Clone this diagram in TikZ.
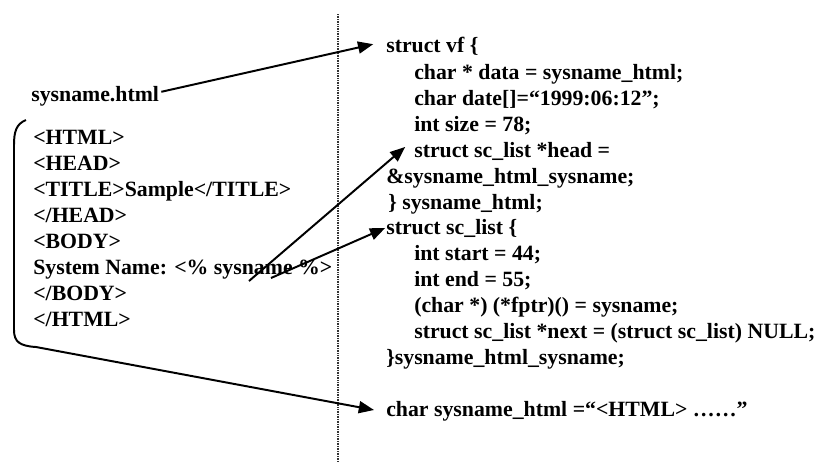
\documentclass[tikz,border=0pt]{standalone}
\usepackage{fontspec}
\setmainfont{Liberation Serif}
\usetikzlibrary{arrows.meta}

\tikzset{
  src/.style={anchor=base west,inner sep=0pt,font=\fontsize{15.5}{18}\selectfont\bfseries},
  link/.style={-{Triangle[length=0.38cm,width=0.3cm]},line width=1.4pt},
}

\begin{document}
\begin{tikzpicture}[x=0.025cm,y=-0.025cm]
  \useasboundingbox (0,0) rectangle (821,462);

  % separator between the page and the generated C code
  \draw[black!80,line width=0.8pt,dash pattern=on 0.6pt off 0.6pt] (338,14) -- (338,462);

  % the template file
  \node[src] (fname) at (31,101) {sysname.html};
  \node[src] (h1) at (33,144) {<HTML>};
  \node[src] (h2) at (33,170) {<HEAD>};
  \node[src] (h3) at (33,196) {<TITLE>Sample</TITLE>};
  \node[src] (h4) at (33,222) {</HEAD>};
  \node[src] (h5) at (33,248) {<BODY>};
  \node[src] (h6) at (33,274) {System Name: <\% sysname \%>};
  \node[src] (h7) at (33,300) {</BODY>};
  \node[src] (h8) at (33,326) {</HTML>};
  \coordinate (tagA) at (249,281);
  \coordinate (tagB) at (271,278);

  % bracket round the page text
  \draw[line width=1.4pt] (26,120) .. controls (16,124) and (14,132) .. (14,145)
    -- (14,330) .. controls (14,342) and (20,346) .. (36,347);
  \coordinate (pageend) at (36,347);

  % generated structures
  \node[src] (vf)    at (386,52)  {struct vf \{};
  \node[src] (vf1)   at (414,79)  {char * data = sysname\_html;};
  \node[src] (vf2)   at (414,105) {char date[]=``1999:06:12'';};
  \node[src] (vf3)   at (414,131) {int size = 78;};
  \node[src] (vf4)   at (414,157) {struct sc\_list *head =};
  \node[src] (vf5)   at (386,183) {\&sysname\_html\_sysname;};
  \node[src] (vfend) at (388,209) {\} sysname\_html;};
  \node[src] (sc)    at (386,234) {struct sc\_list \{};
  \node[src] (sc1)   at (414,260) {int start = 44;};
  \node[src] (sc2)   at (414,286) {int end = 55;};
  \node[src] (sc3)   at (414,312) {(char *) (*fptr)() = sysname;};
  \node[src] (sc4)   at (414,338) {struct sc\_list *next = (struct sc\_list) NULL;};
  \node[src] (scend) at (386,364) {\}sysname\_html\_sysname;};
  \node[src] (data)  at (386,416) {char sysname\_html =``<HTML> \dots\dots''};

  % links
  \draw[link] (fname.east) ++(2,-4) -- ([xshift=-0.32cm,yshift=0.04cm]vf.west);
  \draw[link] (tagA) -- ([xshift=-0.22cm,yshift=0.1cm]vf4.west);
  \draw[link] (tagB) -- ([xshift=-0.02cm]sc.west);
  \draw[link] (pageend) -- ([xshift=-0.3cm,yshift=0.02cm]data.west);
\end{tikzpicture}
\end{document}
